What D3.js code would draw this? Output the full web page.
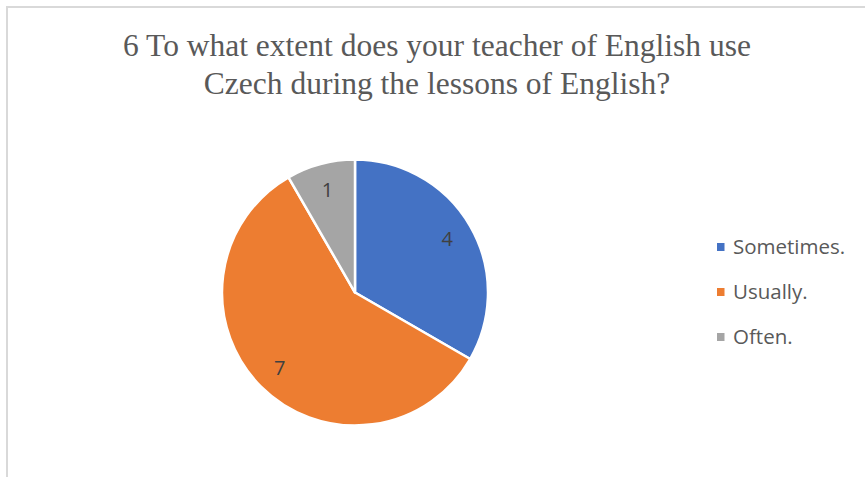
<!DOCTYPE html>
<html>
<head>
<meta charset="utf-8">
<script src="https://cdn.jsdelivr.net/npm/d3@7"></script>
<style>
  html, body { margin: 0; padding: 0; background: #fff; }
  svg { display: block; }
</style>
</head>
<body>
<svg id="chart" width="865" height="477"></svg>
<script>
// data
var categories = ["Sometimes.", "Usually.", "Often."];
var values = [4, 7, 1];
var colors = ["#4472C4", "#ED7D31", "#A5A5A5"];
var titleLines = ["6 To what extent does your teacher of English use",
                  "Czech during the lessons of English?"];

var W = 865, H = 477;
var svg = d3.select("#chart");

// chart area border (only top/left visible, rest runs off the picture)
svg.append("rect")
  .attr("x", 7).attr("y", 7)
  .attr("width", W + 20).attr("height", H + 20)
  .attr("fill", "#fff")
  .attr("stroke", "#d9d9d9").attr("stroke-width", 2);

// title
var title = svg.append("g").attr("class", "title");
title.selectAll("text").data(titleLines).enter().append("text")
  .attr("x", 437)
  .attr("y", function(d, i){ return 56 + i * 38; })
  .attr("text-anchor", "middle")
  .attr("font-family", "'Liberation Serif', 'Times New Roman', serif")
  .attr("font-size", 31.5)
  .attr("fill", "#595959")
  .text(function(d){ return d; });

// pie
var cx = 355, cy = 292.5, r = 133;
var pie = d3.pie().sort(null).value(function(d){ return d; });
var arc = d3.arc().innerRadius(0).outerRadius(r);
var labelArc = d3.arc().innerRadius(r * 0.8).outerRadius(r * 0.8);
var arcs = pie(values);

var g = svg.append("g").attr("transform", "translate(" + cx + "," + cy + ")");
g.selectAll("path.slice").data(arcs).enter().append("path")
  .attr("class", "slice")
  .attr("d", arc)
  .attr("fill", function(d, i){ return colors[i]; })
  .attr("stroke", "#fff")
  .attr("stroke-width", 2.5)
  .attr("stroke-linejoin", "round");

g.selectAll("text.lbl").data(arcs).enter().append("text")
  .attr("class", "lbl")
  .attr("transform", function(d){ return "translate(" + labelArc.centroid(d) + ")"; })
  .attr("text-anchor", "middle")
  .attr("dy", "0.35em")
  .attr("font-family", "'Open Sans', 'Liberation Sans', sans-serif")
  .attr("font-size", 20)
  .attr("fill", "#404040")
  .text(function(d){ return d.data; });

// legend
var legend = svg.append("g").attr("class", "legend");
var row = legend.selectAll("g").data(categories).enter().append("g")
  .attr("transform", function(d, i){ return "translate(717," + (247 + i * 45) + ")"; });
row.append("rect")
  .attr("x", 0).attr("y", -4)
  .attr("width", 7.5).attr("height", 8)
  .attr("fill", function(d, i){ return colors[i]; });
row.append("text")
  .attr("x", 16)
  .attr("dy", "0.35em")
  .attr("font-family", "'Open Sans', 'Liberation Sans', sans-serif")
  .attr("font-size", 20.5)
  .attr("fill", "#595959")
  .text(function(d){ return d; });
</script>
</body>
</html>
